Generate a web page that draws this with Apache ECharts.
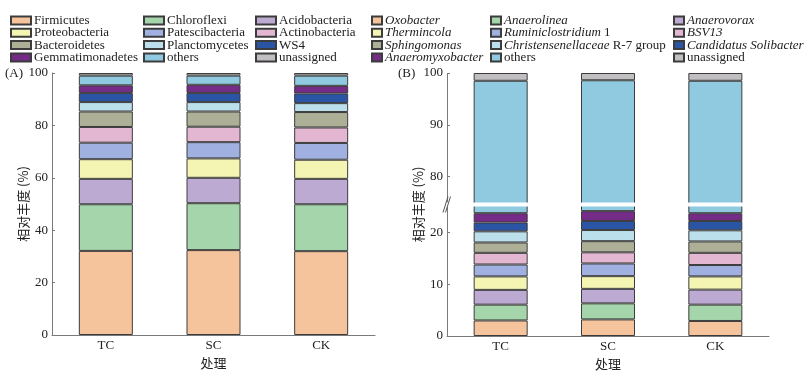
<!DOCTYPE html>
<html>
<head>
<meta charset="utf-8">
<script src="https://cdn.jsdelivr.net/npm/echarts@6.0.0/dist/echarts.min.js"></script>
<style>html,body{margin:0;padding:0;background:#fff}#c{width:812px;height:374px}</style>
</head>
<body>
<div id="c"></div>
<script>
// ---------- data ----------
const categories = ['TC', 'SC', 'CK'];
const yTicksA = [0, 20, 40, 60, 80, 100];
const yTicksB = [0, 10, 20, 80, 90, 100];

// Panel A (phylum level), stacked bottom -> top
const phylumNames = ['Firmicutes', 'Chloroflexi', 'Acidobacteria', 'Proteobacteria', 'Patescibacteria',
  'Actinobacteria', 'Bacteroidetes', 'Planctomycetes', 'WS4', 'Gemmatimonadetes', 'others', 'unassigned'];
const Firmicutes       = [32.1, 32.4, 32.0];
const Chloroflexi      = [17.8, 17.9, 17.9];
const Acidobacteria    = [9.7, 9.7, 9.7];
const Proteobacteria   = [7.5, 7.4, 7.3];
const Patescibacteria  = [6.3, 6.2, 6.4];
const Actinobacteria   = [6.0, 5.9, 5.9];
const Bacteroidetes    = [5.9, 5.8, 5.9];
const Planctomycetes   = [3.6, 3.6, 3.4];
const WS4              = [3.5, 3.5, 3.7];
const Gemmatimonadetes = [2.9, 3.1, 2.9];
const othersA          = [3.7, 3.5, 3.9];
const unassignedA      = [1.0, 1.0, 1.0];

// Panel B (genus level), stacked bottom -> top
const genusNames = ['Oxobacter', 'Anaerolinea', 'Anaerovorax', 'Thermincola', 'Ruminiclostridium 1',
  'BSV13', 'Sphingomonas', 'Christensenellaceae R-7 group', 'Candidatus Solibacter', 'Anaeromyxobacter', 'others', 'unassigned'];
const Oxobacter           = [3.0, 3.2, 2.9];
const Anaerolinea         = [3.05, 3.1, 3.15];
const Anaerovorax         = [2.85, 2.8, 2.9];
const Thermincola         = [2.6, 2.45, 2.55];
const Ruminiclostridium1  = [2.3, 2.45, 2.2];
const BSV13               = [2.25, 2.15, 2.35];
const Sphingomonas        = [2.0, 2.15, 2.2];
const Christensenellaceae = [2.15, 2.15, 2.15];
const CandidatusSolibacter= [1.7, 1.75, 1.8];
const Anaeromyxobacter    = [1.8, 1.9, 1.5];
const othersB             = [74.8, 74.5, 74.8];
const unassignedB         = [1.5, 1.4, 1.5];

const palette = ['#F5C49C', '#A5D5AA', '#BDAAD2', '#F4F5B2', '#A0B0E0', '#E3B6D2',
  '#ADB097', '#BBE0EC', '#2A55A5', '#742C88', '#8FCAE0', '#C2BFC3'];

// ---------- build ----------
const phylumData = [Firmicutes, Chloroflexi, Acidobacteria, Proteobacteria, Patescibacteria,
  Actinobacteria, Bacteroidetes, Planctomycetes, WS4, Gemmatimonadetes, othersA, unassignedA];
const genusData = [Oxobacter, Anaerolinea, Anaerovorax, Thermincola, Ruminiclostridium1,
  BSV13, Sphingomonas, Christensenellaceae, CandidatusSolibacter, Anaeromyxobacter, othersB, unassignedB];

const FONT = "'Liberation Serif', 'Noto Sans CJK SC', serif";
const CJK = "'Noto Sans CJK SC', 'Liberation Serif', sans-serif";
const axisColor = '#7a7a7a';

function mkSeries(names, datas, idx, stack) {
  return names.map((n, i) => ({
    name: n, type: 'bar', stack: stack, xAxisIndex: idx, yAxisIndex: idx,
    data: datas[i], barWidth: 54,
    itemStyle: { color: palette[i], borderColor: '#3c3c3c', borderWidth: 1 },
    emphasis: { disabled: true }
  }));
}

function xAxisOf(idx) {
  return {
    type: 'category', gridIndex: idx, data: categories,
    axisLine: { lineStyle: { color: axisColor, width: 1 } },
    axisTick: { inside: true, alignWithLabel: true, length: 3, lineStyle: { color: axisColor } },
    axisLabel: { color: '#222', fontFamily: FONT, fontSize: 13, margin: 4 },
    name: '处理', nameLocation: 'middle', nameGap: 21,
    nameTextStyle: { color: '#222', fontFamily: CJK, fontSize: 13 }
  };
}

function yAxisOf(idx, ticks, interval, extra) {
  return Object.assign({
    type: 'value', gridIndex: idx, min: 0, max: 100, interval: interval,
    axisLine: { show: true, lineStyle: { color: axisColor } },
    axisTick: { show: true, inside: true, length: 3, lineStyle: { color: axisColor }, customValues: ticks },
    splitLine: { show: false },
    axisLabel: { color: '#222', fontFamily: FONT, fontSize: 13, margin: 4, customValues: ticks,
      hideOverlap: false, formatter: v => String(v) },
    name: '相对丰度 (%)', nameLocation: 'middle', nameGap: 22, nameMoveOverlap: false,
    nameTextStyle: { color: '#222', fontFamily: CJK, fontSize: 13 }
  }, extra || {});
}

function legendCol(names, left, iw, ih, italic) {
  const base = { fontFamily: FONT, fontSize: 13, color: '#222', lineHeight: 12 };
  return {
    orient: 'vertical', left: left, top: 14, data: names,
    itemWidth: iw, itemHeight: ih, itemGap: -0.7, icon: 'rect', padding: 0,
    selectedMode: false,
    textStyle: Object.assign({}, base, {
      padding: [0, 0, 0, -2],
      rich: { n: Object.assign({ fontStyle: 'normal' }, base),
              i: Object.assign({ fontStyle: 'italic' }, base) }
    }),
    formatter: function (name) {
      if (!italic) return '{n|' + name + '}';
      if (name === 'others' || name === 'unassigned') return '{n|' + name + '}';
      if (name === 'Ruminiclostridium 1') return '{i|Ruminiclostridium}{n| 1}';
      if (name === 'Christensenellaceae R-7 group') return '{i|Christensenellaceae}{n| R-7 group}';
      return '{i|' + name + '}';
    }
  };
}

const chart = echarts.init(document.getElementById('c'), null, { renderer: 'canvas' });

const option = {
  animation: false,
  backgroundColor: '#fff',
  title: [
    { text: '(A)', left: 5, top: 67, padding: 0, textStyle: { fontFamily: FONT, fontSize: 13, fontWeight: 'normal', color: '#222' } },
    { text: '(B)', left: 398, top: 67, padding: 0, textStyle: { fontFamily: FONT, fontSize: 13, fontWeight: 'normal', color: '#222' } }
  ],
  legend: [
    legendCol([phylumNames[0], phylumNames[3], phylumNames[6], phylumNames[9]], 10, 20, 8, false),
    legendCol([phylumNames[1], phylumNames[4], phylumNames[7], phylumNames[10]], 143, 20, 8, false),
    legendCol([phylumNames[2], phylumNames[5], phylumNames[8], phylumNames[11]], 255, 20, 8, false),
    legendCol([genusNames[0], genusNames[3], genusNames[6], genusNames[9]], 371, 10, 8, true),
    legendCol([genusNames[1], genusNames[4], genusNames[7], genusNames[10]], 490, 10, 8, true),
    legendCol([genusNames[2], genusNames[5], genusNames[8], genusNames[11]], 673, 10, 8, true)
  ],
  grid: [
    { left: 52, right: 437, top: 73, bottom: 39, containLabel: false, outerBoundsMode: 'none' },
    { left: 447, right: 43, top: 73, bottom: 38, containLabel: false, outerBoundsMode: 'none' }
  ],
  xAxis: [xAxisOf(0), xAxisOf(1)],
  yAxis: [
    yAxisOf(0, yTicksA, 20),
    yAxisOf(1, yTicksB, 10, {
      breaks: [{ start: 25, end: 75, gap: '1.5%' }],
      breakArea: { show: true, zigzagAmplitude: 0, zigzagZ: 100,
        itemStyle: { color: '#fff', borderColor: '#fff', borderWidth: 0, opacity: 1 } }
    })
  ],
  series: mkSeries(phylumNames, phylumData, 0, 'A').concat(mkSeries(genusNames, genusData, 1, 'B'))
};
chart.setOption(option);

// axis-break slash marks on the panel B value axis
try {
  const yLo = chart.convertToPixel({ yAxisIndex: 1 }, 25);
  const yHi = chart.convertToPixel({ yAxisIndex: 1 }, 75);
  const rect = chart.getModel().getComponent('grid', 1).coordinateSystem.getRect();
  const ax = rect.x;
  const ym = (yLo + yHi) / 2;
  chart.setOption({
    graphic: [
      { type: 'rect', shape: { x: ax - 1, y: ym - 2, width: 3, height: 4 }, style: { fill: '#fff' }, z: 200 },
      { type: 'line', shape: { x1: ax - 4, y1: ym + 8, x2: ax + 1, y2: ym - 8 }, style: { stroke: '#555', lineWidth: 1 }, z: 201 },
      { type: 'line', shape: { x1: ax - 1.5, y1: ym + 8, x2: ax + 3.5, y2: ym - 8 }, style: { stroke: '#555', lineWidth: 1 }, z: 201 }
    ]
  });
} catch (e) { console.error(e); }
</script>
</body>
</html>
